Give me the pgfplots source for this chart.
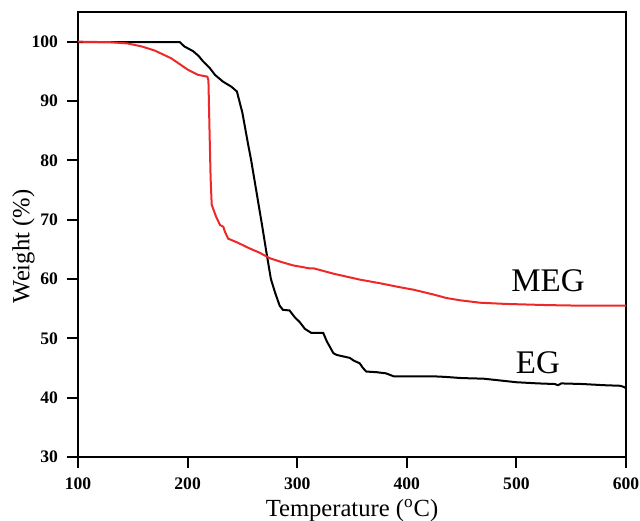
\documentclass[border=0pt]{standalone}
\usepackage{fontspec}
\setmainfont{Liberation Serif}
\usepackage{pgfplots}
\pgfplotsset{compat=1.18}
\definecolor{megred}{RGB}{238,40,40}
\begin{document}
\begin{tikzpicture}
\begin{axis}[
  name=ax,
  scale only axis,
  width=274pt, height=222.5pt,
  xmin=100, xmax=600, ymin=30, ymax=105,
  xtick={100,200,300,400,500,600},
  ytick={30,40,50,60,70,80,90,100},
  tick align=outside,
  xtick pos=left, ytick pos=left,
  major tick length=5.5pt,
  axis line style={line width=1pt},
  every tick/.style={black,line width=1pt},
  /pgf/number format/assume math mode=true,
  ticklabel style={font=\fontsize{8.8}{10}\selectfont\bfseries},
  xticklabel style={yshift=-1.5pt},
  yticklabel style={xshift=-1pt},
  xlabel={Temperature (\textsuperscript{o}C)},
  ylabel={Weight (\%)},
  label style={font=\fontsize{12.3}{14}\selectfont},
  xlabel style={at={(axis description cs:0.5,-0.12)},anchor=center},
  ylabel style={at={(axis description cs:-0.0995,0.473)},anchor=center},
  clip=true,
]
\addplot[black,line width=1pt] coordinates {
(100,99.9) (150,99.9) (193,99.9) (197,99.2) (201,98.8) (205,98.4) (210,97.6) (214,96.7) (220,95.6) (225,94.4) (232,93.3) (240,92.4) (245,91.6) (250,88) (255,82.9) (258,80) (263,74.5) (268,69) (272,64.4) (276,60) (280,57.6) (284,55.5) (287,54.8) (293,54.7) (298,53.5) (302,52.8) (307,51.6) (313,50.9) (323.8,50.9) (327,49.5) (330,48.5) (333,47.5) (336,47.2) (348,46.7) (352,46.2) (357,45.8) (360,45.0) (363,44.4) (372,44.3) (381,44.1) (388,43.6) (400,43.6) (424,43.6) (435,43.5) (450,43.3) (470,43.2) (490,42.8) (500,42.6) (520,42.4) (535,42.3) (538,42.1) (541,42.4) (560,42.3) (580,42.1) (595,42.0) (598,41.8) (600,41.6)
};
\addplot[megred,line width=1pt] coordinates {
(100,100) (130,99.9) (145,99.7) (158,99.2) (170,98.5) (185,97.2) (200,95.3) (209.5,94.4) (218,94.1) (219,93.5) (220,85) (221,77) (222,72.5) (226,70.5) (229.6,69.1) (232.6,68.8) (234,68.0) (237,66.8) (246,66.1) (256,65.2) (266,64.4) (275,63.5) (285,62.9) (296,62.3) (311,61.8) (315,61.8) (333,60.9) (357,59.9) (375,59.3) (394,58.6) (406,58.2) (424,57.4) (436,56.8) (449,56.4) (467,56.0) (490,55.8) (528,55.6) (560,55.5) (600,55.5)
};
\node[font=\fontsize{16.5}{18}\selectfont] at (axis cs:528.8,59.7) {MEG};
\node[font=\fontsize{16.5}{18}\selectfont] at (axis cs:519.7,45.9) {EG};
\end{axis}
\pgfresetboundingbox
\path ([xshift=-39pt,yshift=-32pt]ax.south west) rectangle ([xshift=7pt,yshift=6pt]ax.north east);
\end{tikzpicture}
\end{document}
